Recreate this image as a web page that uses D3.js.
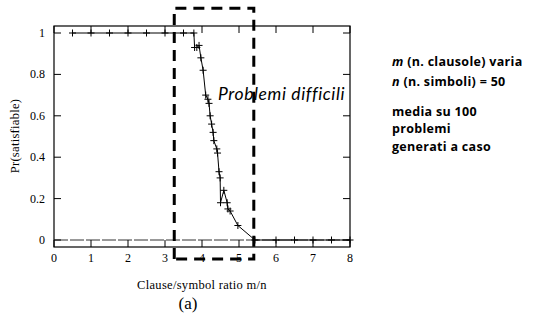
<!DOCTYPE html>
<html>
<head>
<meta charset="utf-8">
<script src="https://cdn.jsdelivr.net/npm/d3@7"></script>
<style>
  body { margin: 0; background: #fff; }
  svg { display: block; }
</style>
</head>
<body>
<div id="chart"></div>
<script>
// data
const ratio = [0.5, 1, 1.5, 2, 2.5, 3, 3.5, 3.78, 3.8, 3.86, 3.92, 3.97, 4.03, 4.1, 4.16, 4.19,
  4.22, 4.26, 4.3, 4.32, 4.4, 4.42, 4.46, 4.49, 4.5, 4.59, 4.68, 4.7, 4.76, 4.97, 5.43,
  6, 6.5, 7, 7.5, 8];
const prSat = [1, 1, 1, 1, 1, 1, 1, 1, 0.93, 0.93, 0.94, 0.88, 0.82, 0.70, 0.68, 0.66,
  0.60, 0.56, 0.52, 0.48, 0.44, 0.42, 0.33, 0.30, 0.18, 0.24, 0.18, 0.15, 0.14, 0.07, 0.0,
  0, 0, 0, 0, 0];
const xTicks = [0, 1, 2, 3, 4, 5, 6, 7, 8];
const yTicks = [0, 0.2, 0.4, 0.6, 0.8, 1];
const hardRegion = [3.25, 5.4];
const notes = [
  [{t: "m", i: true}, {t: " (n. clausole) varia"}],
  [{t: "n", i: true}, {t: " (n. simboli) = 50"}],
  [],
  [{t: "media su 100"}],
  [{t: "problemi"}],
  [{t: "generati a caso"}]
];

const width = 533, height = 324;

const svg = d3.select("#chart").append("svg")
  .attr("width", width).attr("height", height);

// Scales
let x = d3.scaleLinear().domain([0, 8]).range([54, 350]);
let y = d3.scaleLinear().domain([0, 1]).range([240, 33]);
const frameTop = 26, frameBottom = 247;
const serif = "Liberation Serif";

// frame
svg.append("rect")
  .attr("x", x(0)).attr("y", frameTop)
  .attr("width", x(8) - x(0)).attr("height", frameBottom - frameTop)
  .attr("fill", "none").attr("stroke", "#000").attr("stroke-width", 1.2);

// zero line (slightly broken, like the scan)
svg.append("line")
  .attr("x1", x(0)).attr("x2", x(8))
  .attr("y1", y(0)).attr("y2", y(0))
  .attr("stroke", "#333").attr("stroke-width", 1)
  .attr("stroke-dasharray", "14,2");

// ticks - inward on every side
const tl = 7;
svg.append("g").selectAll("line").data(xTicks).join("line")
  .attr("x1", d => x(d)).attr("x2", d => x(d))
  .attr("y1", frameBottom).attr("y2", frameBottom - tl)
  .attr("stroke", "#000");
svg.append("g").selectAll("line").data(xTicks).join("line")
  .attr("x1", d => x(d)).attr("x2", d => x(d))
  .attr("y1", frameTop).attr("y2", frameTop + tl)
  .attr("stroke", "#000");
svg.append("g").selectAll("line").data(yTicks).join("line")
  .attr("x1", x(0)).attr("x2", x(0) + tl)
  .attr("y1", d => y(d)).attr("y2", d => y(d))
  .attr("stroke", "#000");
svg.append("g").selectAll("line").data(yTicks).join("line")
  .attr("x1", x(8)).attr("x2", x(8) - tl)
  .attr("y1", d => y(d)).attr("y2", d => y(d))
  .attr("stroke", "#000");

// tick labels
svg.append("g").selectAll("text").data(xTicks).join("text")
  .attr("x", d => x(d)).attr("y", 262)
  .attr("text-anchor", "middle")
  .attr("font-family", serif).attr("font-size", 12)
  .text(d => d);
svg.append("g").selectAll("text").data(yTicks).join("text")
  .attr("x", 45).attr("y", d => y(d) + 4)
  .attr("text-anchor", "end")
  .attr("font-family", serif).attr("font-size", 12)
  .text(d => d);

// axis titles
svg.append("text")
  .attr("x", 202).attr("y", 289)
  .attr("text-anchor", "middle")
  .attr("font-family", serif).attr("font-size", 12.5)
  .attr("letter-spacing", 0.3)
  .text("Clause/symbol ratio m/n");
svg.append("text")
  .attr("transform", "translate(19,136) rotate(-90)")
  .attr("text-anchor", "middle")
  .attr("font-family", serif).attr("font-size", 12.5)
  .attr("letter-spacing", 0.3)
  .text("Pr(satisfiable)");
svg.append("text")
  .attr("x", 188).attr("y", 309)
  .attr("text-anchor", "middle")
  .attr("font-family", serif).attr("font-size", 17)
  .text("(a)");

// data line
const pts = ratio.map((r, i) => [r, prSat[i]]);
svg.append("path")
  .datum(pts)
  .attr("fill", "none").attr("stroke", "#000").attr("stroke-width", 1)
  .attr("d", d3.line().x(d => x(d[0])).y(d => y(d[1])));

// + markers
const ms = 3.5;
svg.append("g").selectAll("path").data(pts).join("path")
  .attr("d", d => `M${x(d[0]) - ms},${y(d[1])}H${x(d[0]) + ms}M${x(d[0])},${y(d[1]) - ms}V${y(d[1]) + ms}`)
  .attr("stroke", "#000").attr("stroke-width", 1);

// dashed "hard problems" box
svg.append("path")
  .attr("d", `M${x(hardRegion[0])},${y(-0.092)}V${y(1.12)}H${x(hardRegion[1])}V${y(-0.092)}Z`)
  .attr("fill", "none").attr("stroke", "#000").attr("stroke-width", 3)
  .attr("stroke-dasharray", "11,7");

svg.append("text")
  .attr("x", 218).attr("y", 100)
  .attr("font-family", "Lato").attr("font-style", "italic").attr("font-size", 17.5)
  .attr("letter-spacing", 0.6)
  .text("Problemi difficili");

// notes on the right
const nt = svg.append("text")
  .attr("font-family", "Open Sans").attr("font-weight", "bold").attr("font-size", 12.5)
  .attr("letter-spacing", 0.3);
notes.forEach((line, i) => {
  if (!line.length) return;
  const ly = [66, 86, 0, 116, 133, 151][i];
  line.forEach((seg, j) => {
    const ts = nt.append("tspan").text(seg.t).attr("font-style", seg.i ? "italic" : "normal");
    if (j === 0) ts.attr("x", 392).attr("y", ly);
  });
});
</script>
</body>
</html>
